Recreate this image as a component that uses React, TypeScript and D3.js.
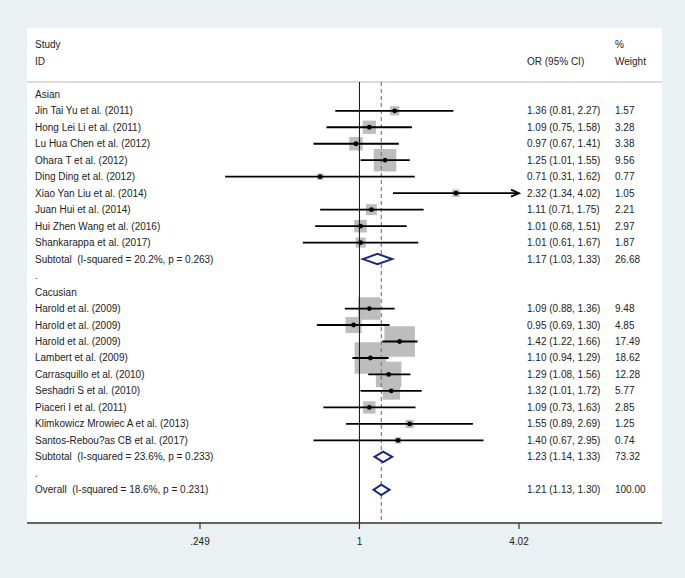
import React from "react";
import * as d3 from "d3";

const studies = [
  "Asian",
  "Jin Tai Yu et al. (2011)",
  "Hong Lei Li et al. (2011)",
  "Lu Hua Chen et al. (2012)",
  "Ohara T et al. (2012)",
  "Ding Ding et al. (2012)",
  "Xiao Yan Liu et al. (2014)",
  "Juan Hui et al. (2014)",
  "Hui Zhen Wang et al. (2016)",
  "Shankarappa et al. (2017)",
  "Subtotal  (I-squared = 20.2%, p = 0.263)",
  ".",
  "Cacusian",
  "Harold et al. (2009)",
  "Harold et al. (2009)",
  "Harold et al. (2009)",
  "Lambert et al. (2009)",
  "Carrasquillo et al. (2010)",
  "Seshadri S et al. (2010)",
  "Piaceri I et al. (2011)",
  "Klimkowicz Mrowiec A et al. (2013)",
  "Santos-Rebou?as CB et al. (2017)",
  "Subtotal  (I-squared = 23.6%, p = 0.233)",
  ".",
  "Overall  (I-squared = 18.6%, p = 0.231)",
];
// row kind: h = heading, s = study, d = diamond (pooled), b = blank
const kinds = ["h","s","s","s","s","s","s","s","s","s","d","b","h","s","s","s","s","s","s","s","s","s","d","b","d"];
const orValues: (number | null)[] = [null,1.36,1.09,0.97,1.25,0.71,2.32,1.11,1.01,1.01,1.17,null,null,1.09,0.95,1.42,1.10,1.29,1.32,1.09,1.55,1.40,1.23,null,1.21];
const ciLow: (number | null)[] = [null,0.81,0.75,0.67,1.01,0.31,1.34,0.71,0.68,0.61,1.03,null,null,0.88,0.69,1.22,0.94,1.08,1.01,0.73,0.89,0.67,1.14,null,1.13];
const ciHigh: (number | null)[] = [null,2.27,1.58,1.41,1.55,1.62,4.02,1.75,1.51,1.67,1.33,null,null,1.36,1.30,1.66,1.29,1.56,1.72,1.63,2.69,2.95,1.33,null,1.30];
const weights: (number | null)[] = [null,1.57,3.28,3.38,9.56,0.77,1.05,2.21,2.97,1.87,26.68,null,null,9.48,4.85,17.49,18.62,12.28,5.77,2.85,1.25,0.74,73.32,null,100.0];
const tickValues = [0.249, 1, 4.02];
const tickLabels = [".249", "1", "4.02"];
const overallOR = 1.21;

const W = 685;
const H = 578;
const panel = { x0: 27, x1: 662, y0: 28, y1: 523 };
const rowY0 = 94.3;
const rowStep = 16.48;
const font = "'Liberation Sans', Arial, sans-serif";
const textColor = "#222222";

export default function App() {
  const x = d3.scaleLog().domain([0.249, 4.02]).range([200, 519]);
  const y = (i: number) => rowY0 + rowStep * i;
  const boxK = 7.3;
  const lineTop = 82;
  const fmt = d3.format(".2f");

  return (
    <svg
      width={W}
      height={H}
      style={{ position: "fixed", left: 0, top: 0, display: "block" }}
      fontFamily={font}
    >
      <rect x={0} y={0} width={W} height={H} fill="#e9f1f3" />
      <rect x={panel.x0} y={panel.y0} width={panel.x1 - panel.x0} height={panel.y1 - panel.y0} fill="#ffffff" />

      {/* header */}
      <g fontSize={10} fill={textColor}>
        <text x={35} y={y(-3)} dy="0.35em">Study</text>
        <text x={35} y={y(-2)} dy="0.35em">ID</text>
        <text x={527} y={y(-2)} dy="0.35em">OR (95% CI)</text>
        <text x={615} y={y(-3)} dy="0.35em">%</text>
        <text x={615} y={y(-2)} dy="0.35em">Weight</text>
      </g>
      <line x1={panel.x0} x2={panel.x1} y1={82} y2={82} stroke="#cfcfcf" strokeWidth={1.6} />

      {/* boxes */}
      {studies.map((_, i) => {
        if (kinds[i] !== "s") return null;
        const s = boxK * Math.sqrt(weights[i] as number);
        const cx = x(orValues[i] as number);
        return <rect key={"b" + i} x={cx - s / 2} y={y(i) - s / 2} width={s} height={s} fill="#bdbdbd" />;
      })}

      {/* null line */}
      <line x1={x(1)} x2={x(1)} y1={lineTop} y2={panel.y1} stroke="#111" strokeWidth={1} />
      {/* overall dashed line */}
      <line x1={x(overallOR)} x2={x(overallOR)} y1={lineTop} y2={panel.y1} stroke="#c0605f" strokeWidth={1.2} strokeDasharray="4,3" />

      {/* CI lines and points */}
      {studies.map((_, i) => {
        if (kinds[i] !== "s") return null;
        const lo = ciLow[i] as number;
        const hi = ciHigh[i] as number;
        const arrow = hi >= 4.02;
        const xl = x(Math.max(lo, 0.249));
        const xr = x(Math.min(hi, 4.02));
        const yy = y(i);
        return (
          <g key={"c" + i}>
            <line x1={xl} x2={arrow ? xr - 1 : xr} y1={yy} y2={yy} stroke="#000" strokeWidth={1.8} />
            {arrow && (
              <path d={`M${xr - 8},${yy - 3.5} L${xr},${yy} L${xr - 8},${yy + 3.5}`} fill="none" stroke="#000" strokeWidth={1.8} />
            )}
            <circle cx={x(orValues[i] as number)} cy={yy} r={2.4} fill="#000" />
          </g>
        );
      })}

      {/* diamonds */}
      {studies.map((_, i) => {
        if (kinds[i] !== "d") return null;
        const yy = y(i);
        const hh = 5.2;
        const d = `M${x(ciLow[i] as number)},${yy} L${x(orValues[i] as number)},${yy - hh} L${x(ciHigh[i] as number)},${yy} L${x(orValues[i] as number)},${yy + hh} Z`;
        return <path key={"d" + i} d={d} fill="#fff" stroke="#1a2580" strokeWidth={2} strokeLinejoin="miter" />;
      })}

      {/* labels */}
      <g fontSize={10} fill={textColor} style={{ whiteSpace: "pre" }}>
        {studies.map((s, i) => (
          <text key={"l" + i} x={35} y={y(i)} dy="0.35em" xmlSpace="preserve">{s}</text>
        ))}
        {studies.map((_, i) =>
          orValues[i] == null ? null : (
            <text key={"o" + i} x={527} y={y(i)} dy="0.35em">
              {`${fmt(orValues[i] as number)} (${fmt(ciLow[i] as number)}, ${fmt(ciHigh[i] as number)})`}
            </text>
          )
        )}
        {studies.map((_, i) =>
          weights[i] == null ? null : (
            <text key={"w" + i} x={615} y={y(i)} dy="0.35em">{fmt(weights[i] as number)}</text>
          )
        )}
      </g>

      {/* axis */}
      <line x1={panel.x0} x2={panel.x1} y1={panel.y1} y2={panel.y1} stroke="#333" strokeWidth={1.5} />
      {tickValues.map((t, i) => (
        <g key={"t" + i}>
          <line x1={x(t)} x2={x(t)} y1={panel.y1} y2={panel.y1 + 6} stroke="#333" strokeWidth={1.2} />
          <text x={x(t)} y={541} dy="0.35em" textAnchor="middle" fontSize={10} fill={textColor}>{tickLabels[i]}</text>
        </g>
      ))}
    </svg>
  );
}
